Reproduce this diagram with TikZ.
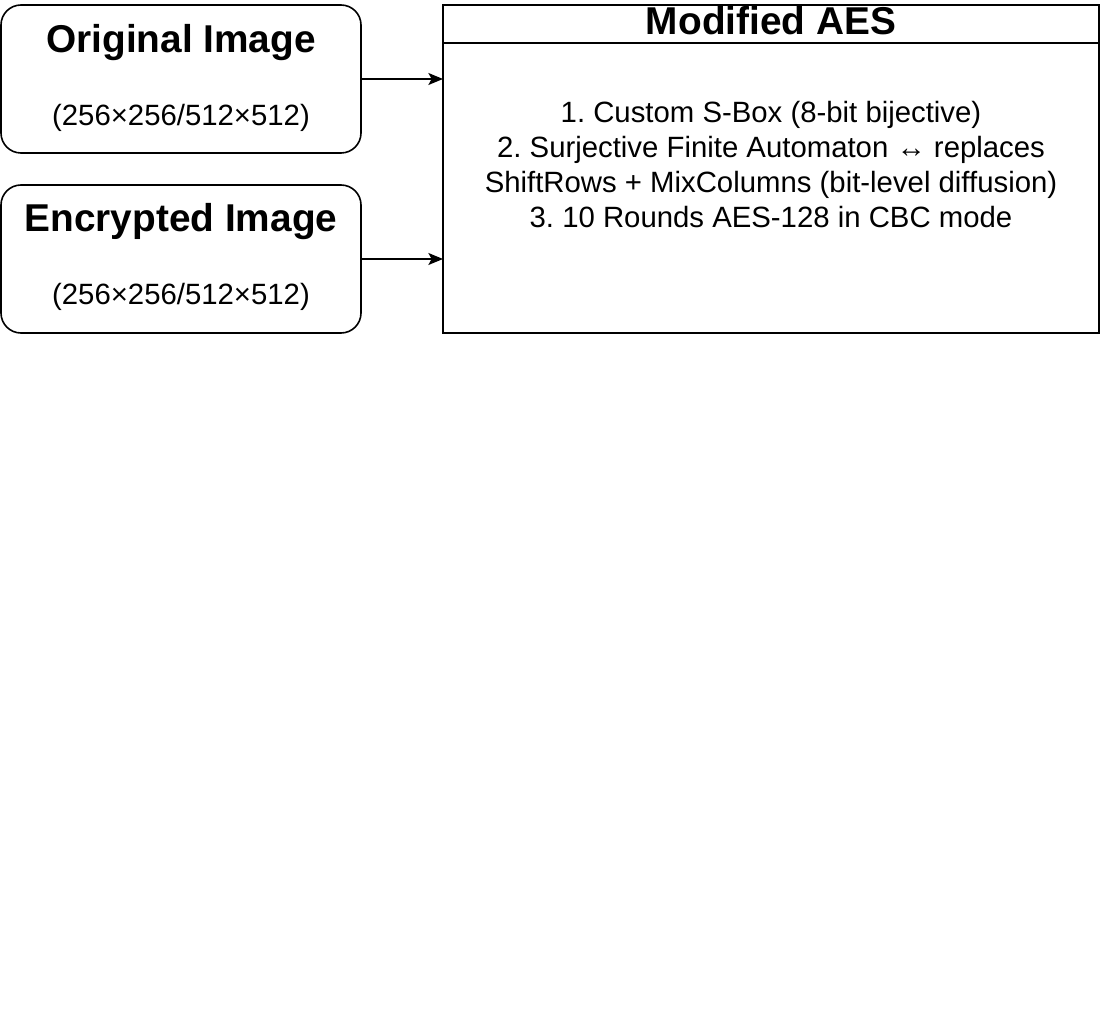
\documentclass[tikz,border=0pt]{standalone}
\usepackage{fontspec}
\setmainfont{Liberation Sans}
\usetikzlibrary{arrows.meta, positioning}
\frenchspacing

\begin{document}
\begin{tikzpicture}[x=0.75pt, y=-0.75pt, line width=1.2pt,
    imgbox/.style={draw, rounded corners=15pt, minimum width=270pt,
      minimum height=111pt, inner sep=0pt, outer sep=0pt},
    mainbox/.style={draw, minimum width=492pt, minimum height=246pt,
      inner sep=0pt, outer sep=0pt},
    headbox/.style={draw, minimum width=492pt, minimum height=28.5pt,
      inner sep=0pt, outer sep=0pt},
    boxtitle/.style={font=\fontsize{29.1pt}{35pt}\selectfont\bfseries,
      inner sep=0pt, anchor=base},
    plaintext/.style={font=\fontsize{22pt}{26.25pt}\selectfont,
      inner sep=0pt, anchor=base},
    flow/.style={-{Stealth[length=11pt, width=9pt, inset=2.5pt]}}]

    \useasboundingbox (0,0) rectangle (1100,1016);

    % Input images
    \node[imgbox] (orig) at (181,79) {};
    \node[imgbox] (enc) at (181,259) {};

    % Labels for the input images
    \node[boxtitle] (origtitle) at (181,53) {Original Image};
    \node[plaintext] (origsize) at (181,126) {(256×256/512×512)};
    \node[boxtitle] (enctitle) at (181,232) {Encrypted Image};
    \node[plaintext] (encsize) at (181,305) {(256×256/512×512)};

    % Modified AES block with its header
    \node[mainbox] (aes) at (771,169) {};
    \node[headbox, anchor=north] (aeshead) at (aes.north) {};
    \node[boxtitle] (aestitle) at (771,35) {Modified AES};

    % Steps of the cipher (base is the last line)
    \node[plaintext, align=center] (steps) at (771,228) {1. Custom S-Box
      (8-bit bijective)\\ 2. Surjective Finite Automaton ↔ replaces\\
      ShiftRows + MixColumns (bit-level diffusion)\\ 3. 10 Rounds AES-128
      in CBC mode};

    % Inputs into the cipher
    \draw[flow] (orig) -- (orig -| aes.west);
    \draw[flow] (enc) -- (enc -| aes.west);

\end{tikzpicture}
\end{document}
